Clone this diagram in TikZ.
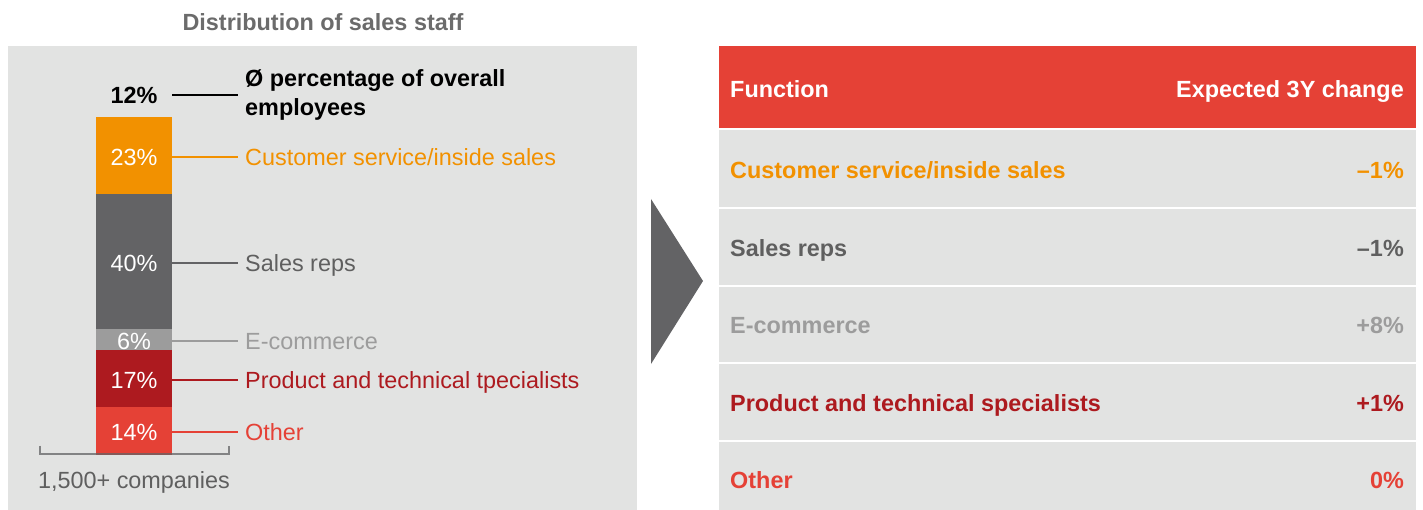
\documentclass[tikz,border=0pt]{standalone}
\usepackage{fontspec}
\setmainfont{Liberation Sans}
\definecolor{panel}{HTML}{E2E3E2}
\definecolor{cOrange}{HTML}{F29100}
\definecolor{cDark}{HTML}{636365}
\definecolor{cLight}{HTML}{9C9C9C}
\definecolor{cDRed}{HTML}{AD1A1F}
\definecolor{cRed}{HTML}{E54136}
\definecolor{cTitle}{HTML}{6B6B6B}
\definecolor{cText}{HTML}{5F5F5F}
\newcommand\fsz{\fontsize{23.4}{29}\selectfont}
\tikzset{
  segbox/.style={draw=none, minimum width=76pt, inner sep=0pt, outer sep=0pt},
  pct/.style={inner sep=0pt, text height=16.8pt, text depth=0pt, font=\fsz, text=white},
  lab/.style={anchor=west, inner xsep=7pt, inner ysep=0pt, text height=16.8pt, text depth=0pt, font=\fsz},
  lead/.style={line width=1.5pt},
  rowbox/.style={draw=none, fill=panel, minimum width=697pt, inner sep=0pt, outer sep=0pt, anchor=north west},
  tleft/.style={anchor=west, inner sep=0pt, text height=16.8pt, text depth=0pt, font=\fsz\bfseries},
  tright/.style={anchor=east, inner sep=0pt, text height=16.8pt, text depth=0pt, font=\fsz\bfseries},
}
\begin{document}
\begin{tikzpicture}[x=1pt,y=-1pt]
\useasboundingbox (0,0) rectangle (1423,510);
% title
\node[inner sep=0pt, text height=16.8pt, text depth=0pt, font=\fsz\bfseries, text=cTitle] (title) at (323,22) {Distribution of sales staff};
% left panel
\node[draw=none, fill=panel, minimum width=629pt, minimum height=464pt, inner sep=0pt, anchor=north west] (lpanel) at (8,46) {};
% bar segments
\node[segbox, fill=cOrange, minimum height=77pt] (seg1) at (134,155.5) {};
\node[segbox, fill=cDark, minimum height=135pt] (seg2) at (134,261.5) {};
\node[segbox, fill=cLight, minimum height=21pt] (seg3) at (134,339.5) {};
\node[segbox, fill=cDRed, minimum height=57pt] (seg4) at (134,378.5) {};
\node[segbox, fill=cRed, minimum height=48pt] (seg5) at (134,431) {};
\node[pct] (p1) at (134,157) {23\%};
\node[pct] (p2) at (134,263) {40\%};
\node[pct] (p3) at (134,341) {6\%};
\node[pct] (p4) at (134,380) {17\%};
\node[pct] (p5) at (134,432) {14\%};
% top
\node[pct, text=black, font=\fsz\bfseries] (p0) at (134,95) {12\%};
\node[anchor=west, inner xsep=7pt, inner ysep=0pt, align=left, font=\fsz\bfseries, text=black] (ovr) at (238,95) {Ø percentage of overall\\employees};
\draw[lead, black] (seg1.north east |- ovr.west) -- (ovr.west);
% labels
\node[lab, text=cOrange] (l1) at (238,157) {Customer service/inside sales};
\node[lab, text=cText] (l2) at (238,263) {Sales reps};
\node[lab, text=cLight] (l3) at (238,341) {E-commerce};
\node[lab, text=cDRed] (l4) at (238,380) {Product and technical tpecialists};
\node[lab, text=cRed] (l5) at (238,432) {Other};
\draw[lead, cOrange] (seg1.east |- l1.west) -- (l1.west);
\draw[lead, cDark] (seg2.east |- l2.west) -- (l2.west);
\draw[lead, cLight] (seg3.east |- l3.west) -- (l3.west);
\draw[lead, cDRed] (seg4.east |- l4.west) -- (l4.west);
\draw[lead, cRed] (seg5.east |- l5.west) -- (l5.west);
% bracket
\coordinate (bl) at (40,453.5);
\coordinate (br) at (229,453.5);
\draw[line width=2pt, color=cDark, opacity=0.75] ([yshift=8pt]bl) -- (bl) -- (br) -- ([yshift=8pt]br);
\node[inner sep=0pt, text height=16.8pt, text depth=0pt, font=\fsz, text=cText] (comp) at (134,480) {1,500+ companies};
% arrow
\coordinate (a1) at (651,199);
\coordinate (a2) at (703,281);
\coordinate (a3) at (651,364);
\fill[cDark] (a1) -- (a2) -- (a3) -- cycle;
% table
\node[rowbox, fill=cRed, minimum height=82pt] (hdr) at (719,46) {};
\node[rowbox, minimum height=77pt] (r1) at (719,130) {};
\node[rowbox, minimum height=76pt] (r2) at (719,209) {};
\node[rowbox, minimum height=75pt] (r3) at (719,287) {};
\node[rowbox, minimum height=76pt] (r4) at (719,364) {};
\node[rowbox, minimum height=68pt] (r5) at (719,442) {};
\node[tleft, text=white] (h1) at (730,89) {Function};
\node[tright, text=white] (h2) at (1404,89) {Expected 3Y change};
\node[tleft, text=cOrange] (t1) at (730,170) {Customer service/inside sales};
\node[tright, text=cOrange] (v1) at (1404,170) {–1\%};
\node[tleft, text=cText] (t2) at (730,248) {Sales reps};
\node[tright, text=cText] (v2) at (1404,248) {–1\%};
\node[tleft, text=cLight] (t3) at (730,325) {E-commerce};
\node[tright, text=cLight] (v3) at (1404,325) {+8\%};
\node[tleft, text=cDRed] (t4) at (730,403) {Product and technical specialists};
\node[tright, text=cDRed] (v4) at (1404,403) {+1\%};
\node[tleft, text=cRed] (t5) at (730,480) {Other};
\node[tright, text=cRed] (v5) at (1404,480) {0\%};
\end{tikzpicture}
\end{document}
